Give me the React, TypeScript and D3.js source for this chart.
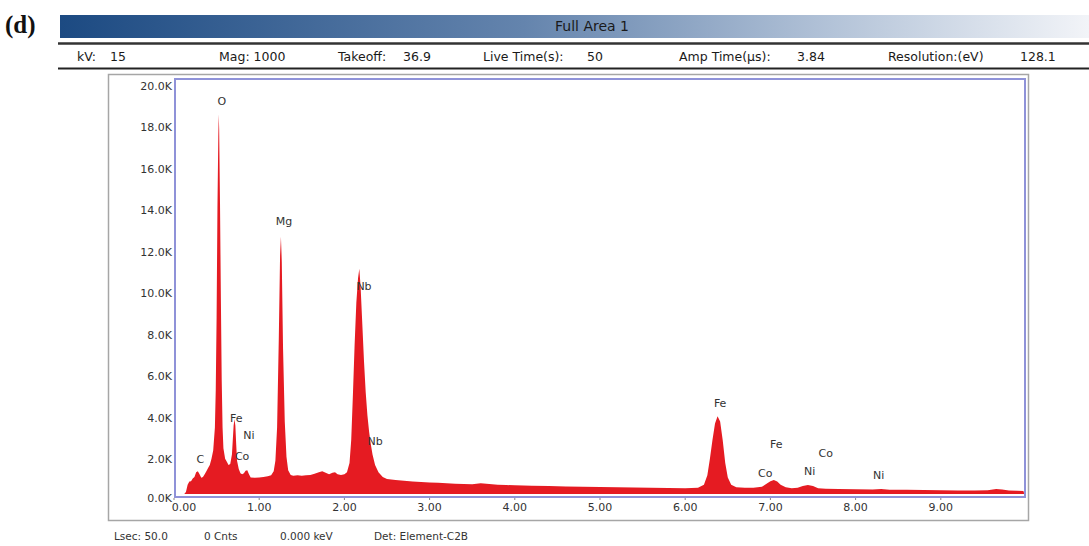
import React from "react";
import * as d3 from "d3";

// EDS spectrum, energy in keV
const energy = [
  0.12, 0.14, 0.16, 0.18, 0.2, 0.22, 0.24, 0.26, 0.28, 0.3, 0.32, 0.34, 0.36, 0.38, 0.4, 0.42, 0.44, 0.46, 0.48, 0.49,
  0.5, 0.51, 0.52, 0.525, 0.53, 0.54, 0.55, 0.56, 0.57, 0.58, 0.6, 0.62, 0.64, 0.66, 0.68, 0.69, 0.7, 0.71, 0.72, 0.73,
  0.74, 0.76, 0.78, 0.8, 0.82, 0.84, 0.86, 0.88, 0.9, 0.95, 1.0, 1.05, 1.1, 1.14, 1.17, 1.19, 1.21, 1.23, 1.245, 1.255,
  1.265, 1.28, 1.3, 1.32, 1.34, 1.37, 1.4, 1.45, 1.5, 1.55, 1.6, 1.65, 1.7, 1.74, 1.78, 1.82, 1.86, 1.89, 1.92, 1.96,
  2.0, 2.03, 2.06, 2.08, 2.1, 2.12, 2.14, 2.16, 2.175, 2.19, 2.21, 2.23, 2.25, 2.27, 2.29, 2.31, 2.33, 2.36, 2.4, 2.45,
  2.5, 2.55, 2.6, 2.7, 2.8, 2.9, 3.0, 3.1, 3.2, 3.3, 3.4, 3.5, 3.6, 3.7, 3.8, 3.9, 4.0, 4.2, 4.4, 4.6,
  4.8, 5.0, 5.2, 5.4, 5.6, 5.8, 6.0, 6.15, 6.22, 6.26, 6.29, 6.32, 6.35, 6.38, 6.41, 6.44, 6.47, 6.5, 6.54, 6.6,
  6.7, 6.8, 6.9, 6.95, 7.0, 7.04, 7.08, 7.12, 7.18, 7.25, 7.32, 7.38, 7.44, 7.5, 7.56, 7.65, 7.8, 8.0, 8.2, 8.3,
  8.4, 8.6, 8.8, 9.0, 9.2, 9.4, 9.55, 9.65, 9.72, 9.8, 9.9, 9.97, 9.98,
];

// Counts (thousands) at each energy
const counts = [
  0, 0.1, 0.45, 0.6, 0.62, 0.75, 0.82, 1.05, 1.1, 0.95, 0.78, 0.82, 0.95, 1.1, 1.25, 1.4, 1.7, 2.1, 3.2, 5.0,
  8.5, 13.8, 17.2, 18.3, 17.6, 14.0, 9.5, 5.5, 3.2, 2.2, 1.7, 1.55, 1.4, 1.45, 1.9, 2.6, 3.3, 3.6, 3.3, 2.4,
  1.6, 1.2, 1.0, 0.95, 1.0, 1.12, 1.15, 0.95, 0.8, 0.78, 0.8, 0.82, 0.85, 0.9, 1.1, 1.6, 3.2, 7.5, 11.5, 12.4,
  11.2, 7.0, 3.5, 1.8, 1.15, 0.92, 0.88, 0.9, 0.88, 0.9, 0.92, 0.98, 1.05, 1.1, 1.02, 0.95, 1.02, 1.05, 0.95, 0.92,
  0.95, 1.05, 1.5, 2.6, 4.8, 7.2, 9.2, 10.4, 10.85, 10.0, 8.2, 6.4, 4.9, 3.8, 3.0, 2.4, 1.9, 1.4, 1.05, 0.82,
  0.72, 0.7, 0.68, 0.64, 0.6, 0.58, 0.56, 0.54, 0.52, 0.5, 0.48, 0.47, 0.52, 0.48, 0.44, 0.43, 0.42, 0.4, 0.38, 0.36,
  0.35, 0.34, 0.32, 0.31, 0.3, 0.29, 0.28, 0.3, 0.45, 0.9, 1.7, 2.6, 3.4, 3.75, 3.5, 2.6, 1.5, 0.8, 0.45, 0.33,
  0.3, 0.3, 0.35, 0.48, 0.62, 0.68, 0.6, 0.45, 0.32, 0.28, 0.3, 0.38, 0.43, 0.38, 0.28, 0.25, 0.24, 0.23, 0.22, 0.24,
  0.21, 0.2, 0.19, 0.18, 0.17, 0.17, 0.18, 0.24, 0.22, 0.17, 0.16, 0.15, 0,
];

// Element markers: label, energy (keV), height (thousands of counts)
const peakNames = ["C", "O", "Fe", "Ni", "Co", "Mg", "Nb", "Nb", "Fe", "Fe", "Co", "Co", "Ni", "Ni"];
const peakEnergy = [0.31, 0.56, 0.73, 0.88, 0.8, 1.29, 2.23, 2.36, 6.41, 7.07, 6.94, 7.65, 7.46, 8.27];
const peakHeight = [1.64, 18.9, 3.6, 2.8, 1.78, 13.1, 10.0, 2.5, 4.34, 2.36, 0.96, 1.93, 1.06, 0.87];

const yTicks = [0, 2, 4, 6, 8, 10, 12, 14, 16, 18, 20];
const xTicks = [0, 1, 2, 3, 4, 5, 6, 7, 8, 9];

const infoLabels = ["kV:", "15", "Mag: 1000", "Takeoff:", "36.9", "Live Time(s):", "50", "Amp Time(\u00b5s):", "3.84", "Resolution:(eV)", "128.1"];
const infoX = [77, 110, 219, 338, 403, 483, 587, 679, 797, 888, 1020];

const statusLabels = ["Lsec: 50.0", "0 Cnts", "0.000 keV", "Det: Element-C2B"];
const statusX = [114, 204, 280, 374];

const W = 1089;
const H = 546;
const plot = { left: 175, right: 1025, top: 79, bottom: 497 };
const font = "'DejaVu Sans', Verdana, sans-serif";

export default function App() {
  const x = d3.scaleLinear().domain([0, 10]).range([174, 1026]);
  const y = d3.scaleLinear().domain([0, 20]).range([494, 79]);

  const pts: [number, number][] = energy.map((e, i) => [e, counts[i]]);
  const area = d3
    .area<[number, number]>()
    .x((d) => x(d[0]))
    .y0(y(0))
    .y1((d) => y(d[1]));

  return (
    <svg
      width={W}
      height={H}
      style={{ position: "absolute", left: 0, top: 0, background: "#fff" }}
    >
      <defs>
        <linearGradient id="hdr" x1="0" x2="1" y1="0" y2="0">
          <stop offset="0" stopColor="#1c4a82" />
          <stop offset="0.45" stopColor="#6484ad" />
          <stop offset="0.75" stopColor="#b3c3d8" />
          <stop offset="1" stopColor="#f2f4f8" />
        </linearGradient>
        <clipPath id="plotClip">
          <rect x={plot.left} y={plot.top} width={plot.right - plot.left} height={plot.bottom - plot.top} />
        </clipPath>
      </defs>

      <text x={5} y={33} fontFamily="'Liberation Serif', 'Times New Roman', serif" fontWeight="bold" fontSize={25} fill="#111">
        (d)
      </text>

      {/* title bar */}
      <rect x={60} y={15} width={W - 60} height={23} fill="url(#hdr)" />
      <text x={592} y={27} textAnchor="middle" dominantBaseline="middle" fontFamily={font} fontSize={14} fill="#1a1a1a">
        Full Area 1
      </text>
      <line x1={58} x2={W} y1={43.5} y2={43.5} stroke="#333" strokeWidth={2.5} />
      <line x1={58} x2={W} y1={68.5} y2={68.5} stroke="#222" strokeWidth={2} />

      {infoLabels.map((t, i) => (
        <text key={"info" + i} x={infoX[i]} y={57} dominantBaseline="middle" fontFamily={font} fontSize={12.5} fill="#1a1a1a">
          {t}
        </text>
      ))}

      {/* outer frame */}
      <rect x={108.5} y={74.5} width={920} height={446} fill="none" stroke="#a6a6a6" strokeWidth={1.5} />

      {/* spectrum */}
      <path d={area(pts) ?? ""} fill="#e51b22" clipPath="url(#plotClip)" />

      {/* plot border */}
      <rect
        x={plot.left}
        y={plot.top}
        width={plot.right - plot.left}
        height={plot.bottom - plot.top}
        fill="none"
        stroke="#8f92d8"
        strokeWidth={2}
      />

      {yTicks.map((v) => (
        <text
          key={"y" + v}
          x={172}
          y={y(v) + (v === 0 ? 5 : 7.5)}
          textAnchor="end"
          dominantBaseline="middle"
          fontFamily={font}
          fontSize={11}
          fill="#333"
        >
          {v.toFixed(1) + "K"}
        </text>
      ))}

      {xTicks.map((v) => (
        <g key={"x" + v}>
          <line x1={x(v)} x2={x(v)} y1={plot.bottom + 1} y2={plot.bottom + 3} stroke="#888" />
          <text
            x={x(v) + (v === 0 ? 10 : 0)}
            y={508}
            textAnchor="middle"
            dominantBaseline="middle"
            fontFamily={font}
            fontSize={11}
            fill="#333"
          >
            {v.toFixed(2)}
          </text>
        </g>
      ))}

      {peakNames.map((n, i) => (
        <text
          key={"pk" + i}
          x={x(peakEnergy[i])}
          y={y(peakHeight[i])}
          textAnchor="middle"
          dominantBaseline="middle"
          fontFamily={font}
          fontSize={11}
          fill="#333"
        >
          {n}
        </text>
      ))}

      {statusLabels.map((t, i) => (
        <text key={"st" + i} x={statusX[i]} y={537} dominantBaseline="middle" fontFamily={font} fontSize={10.5} fill="#333">
          {t}
        </text>
      ))}
    </svg>
  );
}
